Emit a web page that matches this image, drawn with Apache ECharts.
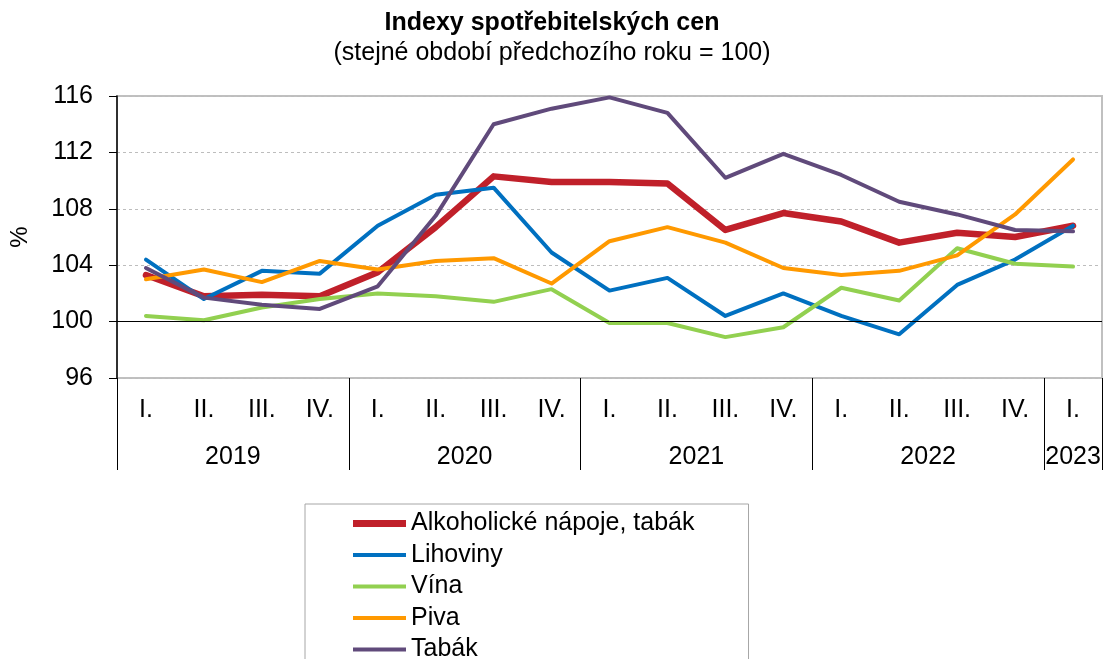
<!DOCTYPE html>
<html>
<head>
<meta charset="utf-8">
<script src="https://cdn.jsdelivr.net/npm/echarts@6/dist/echarts.min.js"></script>
<style>
  html, body { margin: 0; padding: 0; background: #fff; }
  #chart { width: 1104px; height: 659px; }
</style>
</head>
<body>
<div id="chart"></div>
<script>
var years = ['2019', '2020', '2021', '2022', '2023'];
var quarters = ['I.', 'II.', 'III.', 'IV.'];
var yTicks = [96, 100, 104, 108, 112, 116];

var alkoholTabak = [103.3, 101.8, 101.9, 101.8, 103.5, 106.7, 110.3, 109.9, 109.9, 109.8, 106.5, 107.7, 107.1, 105.6, 106.3, 106.0, 106.8];
var lihoviny     = [104.4, 101.6, 103.6, 103.4, 106.8, 109.0, 109.5, 104.9, 102.2, 103.1, 100.4, 102.0, 100.4, 99.1, 102.6, 104.4, 106.8];
var vina         = [100.4, 100.1, 101.0, 101.6, 102.0, 101.8, 101.4, 102.3, 99.9, 99.9, 98.9, 99.6, 102.4, 101.5, 105.2, 104.1, 103.9];
var piva         = [103.0, 103.7, 102.8, 104.3, 103.7, 104.3, 104.5, 102.7, 105.7, 106.7, 105.6, 103.8, 103.3, 103.6, 104.7, 107.6, 111.5];
var tabak        = [103.8, 101.7, 101.2, 100.9, 102.5, 107.5, 114.0, 115.1, 115.9, 114.8, 110.2, 111.9, 110.4, 108.5, 107.6, 106.5, 106.4];

// kategorie: čtvrtletí po letech (2023 jen I.)
var categories = [];
var yearCount = [];
years.forEach(function (y, i) {
    var n = (i === years.length - 1) ? 1 : quarters.length;
    yearCount.push(n);
    for (var q = 0; q < n; q++) categories.push(quarters[q]);
});
// hranice a středy skupin let na pomocné ose
var yearBounds = [0];
var yearMids = [];
yearCount.forEach(function (n) {
    var start = yearBounds[yearBounds.length - 1];
    yearMids.push(start + n / 2);
    yearBounds.push(start + n);
});

var font = '"Liberation Sans", Arial, sans-serif';
var chart = echarts.init(document.getElementById('chart'));

function line(name, data, color, width) {
    return {
        name: name,
        type: 'line',
        data: data,
        symbol: 'none',
        smooth: false,
        lineStyle: { color: color, width: width, cap: 'round', join: 'round' },
        itemStyle: { color: color }
    };
}

var series = [
    line('Alkoholické nápoje, tabák', alkoholTabak, '#c0202a', 6.5),
    line('Lihoviny', lihoviny, '#0070c0', 4),
    line('Vína', vina, '#92d050', 4),
    line('Piva', piva, '#ff9900', 4),
    line('Tabák', tabak, '#604a7b', 4)
];
series[0].markLine = {
    silent: true,
    symbol: 'none',
    label: { show: false },
    lineStyle: { color: '#000', width: 1, type: 'solid' },
    data: [{ yAxis: 100 }]
};

var option = {
    animation: false,
    textStyle: { fontFamily: font },
    title: {
        text: 'Indexy spotřebitelských cen',
        subtext: '(stejné období předchozího roku = 100)',
        left: 'center',
        top: 6,
        itemGap: 5,
        textStyle: { fontFamily: font, fontSize: 25, fontWeight: 'bold', color: '#000' },
        subtextStyle: { fontFamily: font, fontSize: 25, color: '#000' }
    },
    legend: {
        orient: 'vertical',
        left: 305,
        top: 504,
        height: 200,
        padding: [7, 54, 14, 48],
        itemWidth: 53,
        itemHeight: 20,
        itemGap: 6.5,
        borderColor: '#a6a6a6',
        borderWidth: 1,
        borderRadius: 0,
        textStyle: { fontFamily: font, fontSize: 25, color: '#000' },
        data: series.map(function (s) {
            var h = Math.round(s.lineStyle.width);
            return { name: s.name, icon: 'path://M0,0 h53 v' + h + ' h-53 z' };
        })
    },
    grid: {
        left: 116,
        right: 2,
        top: 96,
        bottom: 281,
        show: true,
        borderColor: '#c0c0c0',
        borderWidth: 2
    },
    xAxis: [
        {
            type: 'category',
            data: categories,
            boundaryGap: true,
            axisLine: { show: false },
            axisTick: { show: false },
            axisLabel: { color: '#000', fontSize: 25, fontFamily: font, margin: 20, interval: 0 },
            splitLine: { show: false }
        },
        {
            type: 'value',
            min: 0,
            max: categories.length,
            position: 'bottom',
            axisLine: { show: false },
            splitLine: { show: false },
            axisTick: {
                show: true,
                customValues: yearBounds,
                length: 92,
                lineStyle: { color: '#000', width: 1 }
            },
            axisLabel: {
                customValues: yearMids,
                color: '#000',
                fontSize: 25,
                fontFamily: font,
                margin: 67,
                formatter: function (v) {
                    var i = yearMids.indexOf(v);
                    return i >= 0 ? years[i] : '';
                }
            }
        }
    ],
    yAxis: {
        type: 'value',
        min: yTicks[0],
        max: yTicks[yTicks.length - 1],
        interval: 4,
        name: '%',
        nameLocation: 'middle',
        nameRotate: 90,
        nameGap: 85,
        nameTextStyle: { color: '#000', fontSize: 24, fontFamily: font },
        axisLine: { show: true, lineStyle: { color: '#000', width: 1.5 } },
        axisTick: { show: true, length: 8, lineStyle: { color: '#000' } },
        axisLabel: { color: '#000', fontSize: 25, fontFamily: font, margin: 24 },
        splitLine: { show: true, lineStyle: { color: '#bdbdbd', type: [3, 3], width: 1 } }
    },
    series: series
};
chart.setOption(option);
</script>
</body>
</html>
